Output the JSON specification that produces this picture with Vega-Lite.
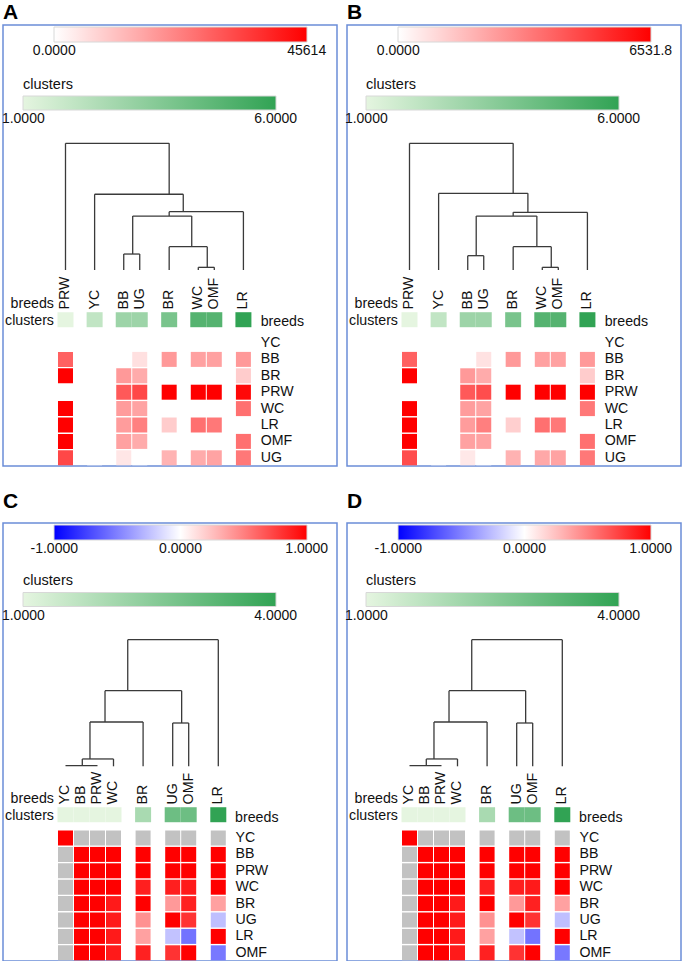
{
  "$schema": "https://vega.github.io/schema/vega-lite/v6.json",
  "padding": {"left": 2, "top": 1, "right": 0, "bottom": 0},
  "config": {
    "view": {"stroke": "#6b8dd8", "strokeWidth": 1.5},
    "font": "Liberation Sans",
    "text": {"font": "Liberation Sans", "fontSize": 14.2, "color": "#111"},
    "title": {"anchor": "start", "fontSize": 21, "fontWeight": "bold", "baseline": "alphabetic", "font": "Liberation Sans", "color": "#000"},
    "legend": {"gradientStrokeColor": "#d8d8d8", "gradientStrokeWidth": 1, "labelColor": "#111", "titleColor": "#111", "labelFont": "Liberation Sans", "titleFont": "Liberation Sans", "padding": 0}
  },
  "datasets": {
    "colsA": [{"c":"PRW","pos":0,"cl":1},{"c":"YC","pos":1.82,"cl":2},{"c":"BB","pos":3.64,"cl":3},{"c":"UG","pos":4.64,"cl":3},{"c":"BR","pos":6.48,"cl":4},{"c":"WC","pos":8.3,"cl":5},{"c":"OMF","pos":9.3,"cl":5},{"c":"LR","pos":11.12,"cl":6}],
    "rowsA": [{"r":"YC","ri":0},{"r":"BB","ri":1},{"r":"BR","ri":2},{"r":"PRW","ri":3},{"r":"WC","ri":4},{"r":"LR","ri":5},{"r":"OMF","ri":6},{"r":"UG","ri":7}],
    "colsC": [{"c":"YC","pos":0,"cl":1},{"c":"BB","pos":1,"cl":1},{"c":"PRW","pos":2,"cl":1},{"c":"WC","pos":3,"cl":1},{"c":"BR","pos":4.85,"cl":2},{"c":"UG","pos":6.7,"cl":3},{"c":"OMF","pos":7.7,"cl":3},{"c":"LR","pos":9.55,"cl":4}],
    "rowsC": [{"r":"YC","ri":0},{"r":"BB","ri":1},{"r":"PRW","ri":2},{"r":"WC","ri":3},{"r":"BR","ri":4},{"r":"UG","ri":5},{"r":"LR","ri":6},{"r":"OMF","ri":7}],
    "dendA": [
      {"x":0,"x2":0,"h":0,"h2":1},{"x":0,"x2":6.48,"h":1,"h2":1},{"x":6.48,"x2":6.48,"h":1,"h2":0.598},
      {"x":1.82,"x2":7.36,"h":0.598,"h2":0.598},{"x":1.82,"x2":1.82,"h":0,"h2":0.598},{"x":7.36,"x2":7.36,"h":0.598,"h2":0.46},
      {"x":6.48,"x2":11.12,"h":0.46,"h2":0.46},{"x":11.12,"x2":11.12,"h":0,"h2":0.46},{"x":6.48,"x2":6.48,"h":0.46,"h2":0.426},
      {"x":4.2,"x2":7.89,"h":0.426,"h2":0.426},{"x":4.2,"x2":4.2,"h":0.426,"h2":0.126},{"x":3.64,"x2":4.64,"h":0.126,"h2":0.126},
      {"x":3.64,"x2":3.64,"h":0,"h2":0.126},{"x":4.64,"x2":4.64,"h":0,"h2":0.126},{"x":7.89,"x2":7.89,"h":0.426,"h2":0.184},
      {"x":6.48,"x2":8.86,"h":0.184,"h2":0.184},{"x":6.48,"x2":6.48,"h":0,"h2":0.184},{"x":8.86,"x2":8.86,"h":0.184,"h2":0.021},
      {"x":8.3,"x2":9.3,"h":0.021,"h2":0.021},{"x":8.3,"x2":8.3,"h":0,"h2":0.021},{"x":9.3,"x2":9.3,"h":0,"h2":0.021}
    ],
    "dendB": [
      {"x":0,"x2":0,"h":0,"h2":1},{"x":0,"x2":6.48,"h":1,"h2":1},{"x":6.48,"x2":6.48,"h":1,"h2":0.605},
      {"x":1.82,"x2":7.4,"h":0.605,"h2":0.605},{"x":1.82,"x2":1.82,"h":0,"h2":0.605},{"x":7.4,"x2":7.4,"h":0.605,"h2":0.455},
      {"x":6.48,"x2":11.12,"h":0.455,"h2":0.455},{"x":11.12,"x2":11.12,"h":0,"h2":0.455},{"x":6.48,"x2":6.48,"h":0.455,"h2":0.426},
      {"x":4.17,"x2":7.96,"h":0.426,"h2":0.426},{"x":4.17,"x2":4.17,"h":0.426,"h2":0.113},{"x":3.64,"x2":4.64,"h":0.113,"h2":0.113},
      {"x":3.64,"x2":3.64,"h":0,"h2":0.113},{"x":4.64,"x2":4.64,"h":0,"h2":0.113},{"x":7.96,"x2":7.96,"h":0.426,"h2":0.184},
      {"x":6.48,"x2":8.86,"h":0.184,"h2":0.184},{"x":6.48,"x2":6.48,"h":0,"h2":0.184},{"x":8.86,"x2":8.86,"h":0.184,"h2":0.021},
      {"x":8.3,"x2":9.3,"h":0.021,"h2":0.021},{"x":8.3,"x2":8.3,"h":0,"h2":0.021},{"x":9.3,"x2":9.3,"h":0,"h2":0.021}
    ],
    "dendC": [
      {"x":9.55,"x2":9.55,"h":0,"h2":1},{"x":3.89,"x2":9.55,"h":1,"h2":1},{"x":3.89,"x2":3.89,"h":1,"h2":0.597},
      {"x":2.47,"x2":7.26,"h":0.597,"h2":0.597},{"x":7.26,"x2":7.26,"h":0.597,"h2":0.342},{"x":6.7,"x2":7.7,"h":0.342,"h2":0.342},
      {"x":6.7,"x2":6.7,"h":0,"h2":0.342},{"x":7.7,"x2":7.7,"h":0,"h2":0.342},{"x":2.47,"x2":2.47,"h":0.597,"h2":0.35},
      {"x":1.53,"x2":4.85,"h":0.35,"h2":0.35},{"x":4.85,"x2":4.85,"h":0,"h2":0.35},{"x":1.53,"x2":1.53,"h":0.35,"h2":0.058},
      {"x":1.05,"x2":3,"h":0.058,"h2":0.058},{"x":3,"x2":3,"h":0,"h2":0.058},{"x":1.05,"x2":1.05,"h":0.058,"h2":0.006},
      {"x":0,"x2":2,"h":0.006,"h2":0.006}
    ],
    "heatA": [
      {"r":"YC","c":"PRW","v":0},{"r":"YC","c":"YC","v":0},{"r":"YC","c":"BB","v":0},{"r":"YC","c":"UG","v":0},{"r":"YC","c":"BR","v":0},{"r":"YC","c":"WC","v":0},{"r":"YC","c":"OMF","v":0},{"r":"YC","c":"LR","v":0},
      {"r":"BB","c":"PRW","v":28281},{"r":"BB","c":"YC","v":0},{"r":"BB","c":"BB","v":0},{"r":"BB","c":"UG","v":5474},{"r":"BB","c":"BR","v":18246},{"r":"BB","c":"WC","v":16877},{"r":"BB","c":"OMF","v":16877},{"r":"BB","c":"LR","v":18246},
      {"r":"BR","c":"PRW","v":45614},{"r":"BR","c":"YC","v":0},{"r":"BR","c":"BB","v":18246},{"r":"BR","c":"UG","v":15053},{"r":"BR","c":"BR","v":0},{"r":"BR","c":"WC","v":0},{"r":"BR","c":"OMF","v":0},{"r":"BR","c":"LR","v":9123},
      {"r":"PRW","c":"PRW","v":0},{"r":"PRW","c":"YC","v":0},{"r":"PRW","c":"BB","v":29649},{"r":"PRW","c":"UG","v":32842},{"r":"PRW","c":"BR","v":45614},{"r":"PRW","c":"WC","v":45614},{"r":"PRW","c":"OMF","v":45614},{"r":"PRW","c":"LR","v":44246},
      {"r":"WC","c":"PRW","v":45614},{"r":"WC","c":"YC","v":0},{"r":"WC","c":"BB","v":17789},{"r":"WC","c":"UG","v":16421},{"r":"WC","c":"BR","v":0},{"r":"WC","c":"WC","v":0},{"r":"WC","c":"OMF","v":0},{"r":"WC","c":"LR","v":25544},
      {"r":"LR","c":"PRW","v":45614},{"r":"LR","c":"YC","v":0},{"r":"LR","c":"BB","v":17789},{"r":"LR","c":"UG","v":22807},{"r":"LR","c":"BR","v":9123},{"r":"LR","c":"WC","v":25544},{"r":"LR","c":"OMF","v":24175},{"r":"LR","c":"LR","v":0},
      {"r":"OMF","c":"PRW","v":45614},{"r":"OMF","c":"YC","v":0},{"r":"OMF","c":"BB","v":16877},{"r":"OMF","c":"UG","v":15053},{"r":"OMF","c":"BR","v":0},{"r":"OMF","c":"WC","v":0},{"r":"OMF","c":"OMF","v":0},{"r":"OMF","c":"LR","v":25544},
      {"r":"UG","c":"PRW","v":32842},{"r":"UG","c":"YC","v":0},{"r":"UG","c":"BB","v":4561},{"r":"UG","c":"UG","v":0},{"r":"UG","c":"BR","v":13684},{"r":"UG","c":"WC","v":15053},{"r":"UG","c":"OMF","v":16421},{"r":"UG","c":"LR","v":24175}
    ],
    "heatB": [
      {"r":"YC","c":"PRW","v":0},{"r":"YC","c":"YC","v":0},{"r":"YC","c":"BB","v":0},{"r":"YC","c":"UG","v":0},{"r":"YC","c":"BR","v":0},{"r":"YC","c":"WC","v":0},{"r":"YC","c":"OMF","v":0},{"r":"YC","c":"LR","v":0},
      {"r":"BB","c":"PRW","v":4050},{"r":"BB","c":"YC","v":0},{"r":"BB","c":"BB","v":0},{"r":"BB","c":"UG","v":740},{"r":"BB","c":"BR","v":2613},{"r":"BB","c":"WC","v":2417},{"r":"BB","c":"OMF","v":2417},{"r":"BB","c":"LR","v":2613},
      {"r":"BR","c":"PRW","v":6531.8},{"r":"BR","c":"YC","v":0},{"r":"BR","c":"BB","v":2613},{"r":"BR","c":"UG","v":2156},{"r":"BR","c":"BR","v":0},{"r":"BR","c":"WC","v":0},{"r":"BR","c":"OMF","v":0},{"r":"BR","c":"LR","v":1306},
      {"r":"PRW","c":"PRW","v":0},{"r":"PRW","c":"YC","v":0},{"r":"PRW","c":"BB","v":4246},{"r":"PRW","c":"UG","v":4570},{"r":"PRW","c":"BR","v":6531.8},{"r":"PRW","c":"WC","v":6531.8},{"r":"PRW","c":"OMF","v":6531.8},{"r":"PRW","c":"LR","v":6531.8},
      {"r":"WC","c":"PRW","v":6531.8},{"r":"WC","c":"YC","v":0},{"r":"WC","c":"BB","v":2547},{"r":"WC","c":"UG","v":2351},{"r":"WC","c":"BR","v":0},{"r":"WC","c":"WC","v":0},{"r":"WC","c":"OMF","v":0},{"r":"WC","c":"LR","v":3462},
      {"r":"LR","c":"PRW","v":6531.8},{"r":"LR","c":"YC","v":0},{"r":"LR","c":"BB","v":2547},{"r":"LR","c":"UG","v":3266},{"r":"LR","c":"BR","v":1230},{"r":"LR","c":"WC","v":3658},{"r":"LR","c":"OMF","v":3462},{"r":"LR","c":"LR","v":0},
      {"r":"OMF","c":"PRW","v":6531.8},{"r":"OMF","c":"YC","v":0},{"r":"OMF","c":"BB","v":2417},{"r":"OMF","c":"UG","v":2351},{"r":"OMF","c":"BR","v":0},{"r":"OMF","c":"WC","v":0},{"r":"OMF","c":"OMF","v":0},{"r":"OMF","c":"LR","v":3658},
      {"r":"UG","c":"PRW","v":4573},{"r":"UG","c":"YC","v":0},{"r":"UG","c":"BB","v":590},{"r":"UG","c":"UG","v":0},{"r":"UG","c":"BR","v":1960},{"r":"UG","c":"WC","v":2220},{"r":"UG","c":"OMF","v":2351},{"r":"UG","c":"LR","v":3462}
    ],
    "heatC": [
      {"r":"YC","c":"YC","v":1},{"r":"YC","c":"BB","v":null},{"r":"YC","c":"PRW","v":null},{"r":"YC","c":"WC","v":null},{"r":"YC","c":"BR","v":null},{"r":"YC","c":"UG","v":null},{"r":"YC","c":"OMF","v":null},{"r":"YC","c":"LR","v":null},
      {"r":"BB","c":"YC","v":null},{"r":"BB","c":"BB","v":1},{"r":"BB","c":"PRW","v":1},{"r":"BB","c":"WC","v":1},{"r":"BB","c":"BR","v":1},{"r":"BB","c":"UG","v":1},{"r":"BB","c":"OMF","v":1},{"r":"BB","c":"LR","v":1},
      {"r":"PRW","c":"YC","v":null},{"r":"PRW","c":"BB","v":1},{"r":"PRW","c":"PRW","v":1},{"r":"PRW","c":"WC","v":1},{"r":"PRW","c":"BR","v":1},{"r":"PRW","c":"UG","v":1},{"r":"PRW","c":"OMF","v":1},{"r":"PRW","c":"LR","v":1},
      {"r":"WC","c":"YC","v":null},{"r":"WC","c":"BB","v":1},{"r":"WC","c":"PRW","v":1},{"r":"WC","c":"WC","v":1},{"r":"WC","c":"BR","v":0.88},{"r":"WC","c":"UG","v":0.88},{"r":"WC","c":"OMF","v":0.9},{"r":"WC","c":"LR","v":1},
      {"r":"BR","c":"YC","v":null},{"r":"BR","c":"BB","v":1},{"r":"BR","c":"PRW","v":1},{"r":"BR","c":"WC","v":0.9},{"r":"BR","c":"BR","v":1},{"r":"BR","c":"UG","v":0.4},{"r":"BR","c":"OMF","v":0.87},{"r":"BR","c":"LR","v":0.37},
      {"r":"UG","c":"YC","v":null},{"r":"UG","c":"BB","v":1},{"r":"UG","c":"PRW","v":1},{"r":"UG","c":"WC","v":0.9},{"r":"UG","c":"BR","v":0.43},{"r":"UG","c":"UG","v":1},{"r":"UG","c":"OMF","v":0.8},{"r":"UG","c":"LR","v":-0.25},
      {"r":"LR","c":"YC","v":null},{"r":"LR","c":"BB","v":1},{"r":"LR","c":"PRW","v":1},{"r":"LR","c":"WC","v":0.9},{"r":"LR","c":"BR","v":0.37},{"r":"LR","c":"UG","v":-0.24},{"r":"LR","c":"OMF","v":-0.55},{"r":"LR","c":"LR","v":1},
      {"r":"OMF","c":"YC","v":null},{"r":"OMF","c":"BB","v":1},{"r":"OMF","c":"PRW","v":1},{"r":"OMF","c":"WC","v":0.9},{"r":"OMF","c":"BR","v":0.87},{"r":"OMF","c":"UG","v":0.8},{"r":"OMF","c":"OMF","v":1},{"r":"OMF","c":"LR","v":-0.53}
    ]
  },
  "spacing": 23,
  "vconcat": [
    {
      "spacing": 8,
      "hconcat": [
        {
          "width": 334, "height": 441,
          "title": {"text": "A", "offset": 2},
          "layer": [
            {"data": {"name": "dendA"}, "mark": {"type": "rule", "color": "#3a3a3a", "strokeWidth": 1.3},
             "encoding": {"x": {"field": "x", "type": "quantitative", "scale": {"domain": [-3.906, 16.969], "nice": false, "zero": false}, "axis": null}, "x2": {"field": "x2"},
                          "y": {"field": "h", "type": "quantitative", "scale": {"domain": [0, 1], "range": [245, 118.3], "nice": false, "zero": false}, "axis": null}, "y2": {"field": "h2"}}},
            {"data": {"name": "heatA"},
             "transform": [{"lookup": "c", "from": {"data": {"name": "colsA"}, "key": "c", "fields": ["pos"]}}, {"lookup": "r", "from": {"data": {"name": "rowsA"}, "key": "r", "fields": ["ri"]}}],
             "mark": {"type": "tick", "orient": "horizontal", "size": 15, "thickness": 15, "opacity": 1},
             "encoding": {"x": {"field": "pos", "type": "quantitative", "scale": {"domain": [-3.906, 16.969], "nice": false, "zero": false}, "axis": null},
                          "y": {"field": "ri", "type": "quantitative", "scale": {"domain": [-19.39, 7.5], "reverse": true, "nice": false, "zero": false}, "axis": null},
                          "color": {"field": "v", "type": "quantitative", "scale": {"domain": [0, 45614], "range": ["#ffffff", "#ff0000"], "interpolate": "rgb", "nice": false},
                                    "legend": {"orient": "none", "legendX": 51, "legendY": 2, "direction": "horizontal", "title": null, "gradientLength": 253, "gradientThickness": 15, "values": [50, 45564], "labelExpr": "datum.value < 1000 ? '0.0000' : '45614'", "labelOffset": 2, "labelFontSize": 14, "labelOverlap": false}}}},
            {"data": {"name": "colsA"},
             "mark": {"type": "tick", "orient": "horizontal", "size": 16, "thickness": 15, "opacity": 1},
             "encoding": {"x": {"field": "pos", "type": "quantitative", "scale": {"domain": [-3.906, 16.969], "nice": false, "zero": false}, "axis": null},
                          "y": {"datum": -1.42, "type": "quantitative", "scale": {"domain": [-19.39, 7.5], "reverse": true, "nice": false, "zero": false}, "axis": null},
                          "color": {"field": "cl", "type": "quantitative", "scale": {"domain": [1, 6], "range": ["#e5f5e0", "#31a354"], "interpolate": "rgb", "nice": false},
                                    "legend": {"orient": "none", "legendX": 20, "legendY": 52.5, "direction": "horizontal", "title": "clusters", "titleFontSize": 14.5, "titleFontWeight": "normal", "titlePadding": 4, "gradientLength": 253, "gradientThickness": 14, "values": [1.006, 5.994], "labelExpr": "datum.value < 2 ? '1.0000' : '6.0000'", "labelOffset": 2, "labelFontSize": 14, "labelOverlap": false}}}},
            {"data": {"name": "colsA"},
             "mark": {"type": "text", "angle": 270, "align": "left", "baseline": "middle"},
             "encoding": {"x": {"field": "pos", "type": "quantitative", "scale": {"domain": [-3.906, 16.969], "nice": false, "zero": false}, "axis": null},
                          "y": {"datum": -2.05, "type": "quantitative", "scale": {"domain": [-19.39, 7.5], "reverse": true, "nice": false, "zero": false}, "axis": null},
                          "text": {"field": "c"}}},
            {"data": {"name": "rowsA"},
             "mark": {"type": "text", "align": "left", "baseline": "middle"},
             "encoding": {"x": {"datum": 12.2, "type": "quantitative", "scale": {"domain": [-3.906, 16.969], "nice": false, "zero": false}, "axis": null},
                          "y": {"field": "ri", "type": "quantitative", "scale": {"domain": [-19.39, 7.5], "reverse": true, "nice": false, "zero": false}, "axis": null},
                          "text": {"field": "r"}}},
            {"data": {"values": [{"t": "breeds"}]},
             "mark": {"type": "text", "align": "right", "baseline": "middle"},
             "encoding": {"x": {"datum": -0.72, "type": "quantitative", "scale": {"domain": [-3.906, 16.969], "nice": false, "zero": false}, "axis": null},
                          "y": {"datum": -2.36, "type": "quantitative", "scale": {"domain": [-19.39, 7.5], "reverse": true, "nice": false, "zero": false}, "axis": null},
                          "text": {"field": "t"}}},
            {"data": {"values": [{"t": "clusters"}]},
             "mark": {"type": "text", "align": "right", "baseline": "middle"},
             "encoding": {"x": {"datum": -0.72, "type": "quantitative", "scale": {"domain": [-3.906, 16.969], "nice": false, "zero": false}, "axis": null},
                          "y": {"datum": -1.37, "type": "quantitative", "scale": {"domain": [-19.39, 7.5], "reverse": true, "nice": false, "zero": false}, "axis": null},
                          "text": {"field": "t"}}},
            {"data": {"values": [{"t": "breeds"}]},
             "mark": {"type": "text", "align": "left", "baseline": "middle"},
             "encoding": {"x": {"datum": 12.2, "type": "quantitative", "scale": {"domain": [-3.906, 16.969], "nice": false, "zero": false}, "axis": null},
                          "y": {"datum": -1.25, "type": "quantitative", "scale": {"domain": [-19.39, 7.5], "reverse": true, "nice": false, "zero": false}, "axis": null},
                          "text": {"field": "t"}}}
          ],
          "resolve": {"scale": {"y": "independent", "color": "independent"}}
        },
        {
          "width": 334, "height": 441,
          "title": {"text": "B", "offset": 2},
          "layer": [
            {"data": {"name": "dendB"}, "mark": {"type": "rule", "color": "#3a3a3a", "strokeWidth": 1.3},
             "encoding": {"x": {"field": "x", "type": "quantitative", "scale": {"domain": [-3.906, 16.969], "nice": false, "zero": false}, "axis": null}, "x2": {"field": "x2"},
                          "y": {"field": "h", "type": "quantitative", "scale": {"domain": [0, 1], "range": [245, 118.3], "nice": false, "zero": false}, "axis": null}, "y2": {"field": "h2"}}},
            {"data": {"name": "heatB"},
             "transform": [{"lookup": "c", "from": {"data": {"name": "colsA"}, "key": "c", "fields": ["pos"]}}, {"lookup": "r", "from": {"data": {"name": "rowsA"}, "key": "r", "fields": ["ri"]}}],
             "mark": {"type": "tick", "orient": "horizontal", "size": 15, "thickness": 15, "opacity": 1},
             "encoding": {"x": {"field": "pos", "type": "quantitative", "scale": {"domain": [-3.906, 16.969], "nice": false, "zero": false}, "axis": null},
                          "y": {"field": "ri", "type": "quantitative", "scale": {"domain": [-19.39, 7.5], "reverse": true, "nice": false, "zero": false}, "axis": null},
                          "color": {"field": "v", "type": "quantitative", "scale": {"domain": [0, 6531.8], "range": ["#ffffff", "#ff0000"], "interpolate": "rgb", "nice": false},
                                    "legend": {"orient": "none", "legendX": 51, "legendY": 2, "direction": "horizontal", "title": null, "gradientLength": 253, "gradientThickness": 15, "values": [7, 6524.8], "labelExpr": "datum.value < 100 ? '0.0000' : '6531.8'", "labelOffset": 2, "labelFontSize": 14, "labelOverlap": false}}}},
            {"data": {"name": "colsA"},
             "mark": {"type": "tick", "orient": "horizontal", "size": 16, "thickness": 15, "opacity": 1},
             "encoding": {"x": {"field": "pos", "type": "quantitative", "scale": {"domain": [-3.906, 16.969], "nice": false, "zero": false}, "axis": null},
                          "y": {"datum": -1.42, "type": "quantitative", "scale": {"domain": [-19.39, 7.5], "reverse": true, "nice": false, "zero": false}, "axis": null},
                          "color": {"field": "cl", "type": "quantitative", "scale": {"domain": [1, 6], "range": ["#e5f5e0", "#31a354"], "interpolate": "rgb", "nice": false},
                                    "legend": {"orient": "none", "legendX": 19, "legendY": 52.5, "direction": "horizontal", "title": "clusters", "titleFontSize": 14.5, "titleFontWeight": "normal", "titlePadding": 4, "gradientLength": 253, "gradientThickness": 14, "values": [1.006, 5.994], "labelExpr": "datum.value < 2 ? '1.0000' : '6.0000'", "labelOffset": 2, "labelFontSize": 14, "labelOverlap": false}}}},
            {"data": {"name": "colsA"},
             "mark": {"type": "text", "angle": 270, "align": "left", "baseline": "middle"},
             "encoding": {"x": {"field": "pos", "type": "quantitative", "scale": {"domain": [-3.906, 16.969], "nice": false, "zero": false}, "axis": null},
                          "y": {"datum": -2.05, "type": "quantitative", "scale": {"domain": [-19.39, 7.5], "reverse": true, "nice": false, "zero": false}, "axis": null},
                          "text": {"field": "c"}}},
            {"data": {"name": "rowsA"},
             "mark": {"type": "text", "align": "left", "baseline": "middle"},
             "encoding": {"x": {"datum": 12.2, "type": "quantitative", "scale": {"domain": [-3.906, 16.969], "nice": false, "zero": false}, "axis": null},
                          "y": {"field": "ri", "type": "quantitative", "scale": {"domain": [-19.39, 7.5], "reverse": true, "nice": false, "zero": false}, "axis": null},
                          "text": {"field": "r"}}},
            {"data": {"values": [{"t": "breeds"}]},
             "mark": {"type": "text", "align": "right", "baseline": "middle"},
             "encoding": {"x": {"datum": -0.72, "type": "quantitative", "scale": {"domain": [-3.906, 16.969], "nice": false, "zero": false}, "axis": null},
                          "y": {"datum": -2.36, "type": "quantitative", "scale": {"domain": [-19.39, 7.5], "reverse": true, "nice": false, "zero": false}, "axis": null},
                          "text": {"field": "t"}}},
            {"data": {"values": [{"t": "clusters"}]},
             "mark": {"type": "text", "align": "right", "baseline": "middle"},
             "encoding": {"x": {"datum": -0.72, "type": "quantitative", "scale": {"domain": [-3.906, 16.969], "nice": false, "zero": false}, "axis": null},
                          "y": {"datum": -1.37, "type": "quantitative", "scale": {"domain": [-19.39, 7.5], "reverse": true, "nice": false, "zero": false}, "axis": null},
                          "text": {"field": "t"}}},
            {"data": {"values": [{"t": "breeds"}]},
             "mark": {"type": "text", "align": "left", "baseline": "middle"},
             "encoding": {"x": {"datum": 12.2, "type": "quantitative", "scale": {"domain": [-3.906, 16.969], "nice": false, "zero": false}, "axis": null},
                          "y": {"datum": -1.25, "type": "quantitative", "scale": {"domain": [-19.39, 7.5], "reverse": true, "nice": false, "zero": false}, "axis": null},
                          "text": {"field": "t"}}}
          ],
          "resolve": {"scale": {"y": "independent", "color": "independent"}}
        }
      ]
    },
    {
      "spacing": 8,
      "hconcat": [
        {
          "width": 334, "height": 438,
          "title": {"text": "C", "offset": 11},
          "layer": [
            {"data": {"name": "dendC"}, "mark": {"type": "rule", "color": "#3a3a3a", "strokeWidth": 1.3},
             "encoding": {"x": {"field": "x", "type": "quantitative", "scale": {"domain": [-3.906, 16.969], "nice": false, "zero": false}, "axis": null}, "x2": {"field": "x2"},
                          "y": {"field": "h", "type": "quantitative", "scale": {"domain": [0, 1], "range": [243.3, 116.7], "nice": false, "zero": false}, "axis": null}, "y2": {"field": "h2"}}},
            {"data": {"name": "heatC"},
             "transform": [{"lookup": "c", "from": {"data": {"name": "colsC"}, "key": "c", "fields": ["pos"]}}, {"lookup": "r", "from": {"data": {"name": "rowsC"}, "key": "r", "fields": ["ri"]}}, {"filter": "datum.v != null"}],
             "mark": {"type": "tick", "orient": "horizontal", "size": 15, "thickness": 15, "opacity": 1},
             "encoding": {"x": {"field": "pos", "type": "quantitative", "scale": {"domain": [-3.906, 16.969], "nice": false, "zero": false}, "axis": null},
                          "y": {"field": "ri", "type": "quantitative", "scale": {"domain": [-19.21, 7.5], "reverse": true, "nice": false, "zero": false}, "axis": null},
                          "color": {"field": "v", "type": "quantitative", "scale": {"domain": [-1, 0, 1], "range": ["#0000ff", "#ffffff", "#ff0000"], "interpolate": "rgb", "nice": false},
                                    "legend": {"orient": "none", "legendX": 51, "legendY": 2, "direction": "horizontal", "title": null, "gradientLength": 253, "gradientThickness": 15, "values": [-0.998, 0, 0.998], "labelExpr": "datum.value < -0.5 ? '-1.0000' : datum.value > 0.5 ? '1.0000' : '0.0000'", "labelOffset": 2, "labelFontSize": 14, "labelOverlap": false}}}},
            {"data": {"name": "heatC"},
             "transform": [{"lookup": "c", "from": {"data": {"name": "colsC"}, "key": "c", "fields": ["pos"]}}, {"lookup": "r", "from": {"data": {"name": "rowsC"}, "key": "r", "fields": ["ri"]}}, {"filter": "datum.v == null"}],
             "mark": {"type": "tick", "orient": "horizontal", "size": 15, "thickness": 15, "opacity": 1, "color": "#c2c2c2"},
             "encoding": {"x": {"field": "pos", "type": "quantitative", "scale": {"domain": [-3.906, 16.969], "nice": false, "zero": false}, "axis": null},
                          "y": {"field": "ri", "type": "quantitative", "scale": {"domain": [-19.21, 7.5], "reverse": true, "nice": false, "zero": false}, "axis": null}}},
            {"data": {"name": "colsC"},
             "mark": {"type": "tick", "orient": "horizontal", "size": 16, "thickness": 15, "opacity": 1},
             "encoding": {"x": {"field": "pos", "type": "quantitative", "scale": {"domain": [-3.906, 16.969], "nice": false, "zero": false}, "axis": null},
                          "y": {"datum": -1.42, "type": "quantitative", "scale": {"domain": [-19.21, 7.5], "reverse": true, "nice": false, "zero": false}, "axis": null},
                          "color": {"field": "cl", "type": "quantitative", "scale": {"domain": [1, 4], "range": ["#e5f5e0", "#31a354"], "interpolate": "rgb", "nice": false},
                                    "legend": {"orient": "none", "legendX": 20, "legendY": 51, "direction": "horizontal", "title": "clusters", "titleFontSize": 14.5, "titleFontWeight": "normal", "titlePadding": 4, "gradientLength": 253, "gradientThickness": 14, "values": [1.004, 3.996], "labelExpr": "datum.value < 2 ? '1.0000' : '4.0000'", "labelOffset": 2, "labelFontSize": 14, "labelOverlap": false}}}},
            {"data": {"name": "colsC"},
             "mark": {"type": "text", "angle": 270, "align": "left", "baseline": "middle"},
             "encoding": {"x": {"field": "pos", "type": "quantitative", "scale": {"domain": [-3.906, 16.969], "nice": false, "zero": false}, "axis": null},
                          "y": {"datum": -2.05, "type": "quantitative", "scale": {"domain": [-19.21, 7.5], "reverse": true, "nice": false, "zero": false}, "axis": null},
                          "text": {"field": "c"}}},
            {"data": {"name": "rowsC"},
             "mark": {"type": "text", "align": "left", "baseline": "middle"},
             "encoding": {"x": {"datum": 10.62, "type": "quantitative", "scale": {"domain": [-3.906, 16.969], "nice": false, "zero": false}, "axis": null},
                          "y": {"field": "ri", "type": "quantitative", "scale": {"domain": [-19.21, 7.5], "reverse": true, "nice": false, "zero": false}, "axis": null},
                          "text": {"field": "r"}}},
            {"data": {"values": [{"t": "breeds"}]},
             "mark": {"type": "text", "align": "right", "baseline": "middle"},
             "encoding": {"x": {"datum": -0.72, "type": "quantitative", "scale": {"domain": [-3.906, 16.969], "nice": false, "zero": false}, "axis": null},
                          "y": {"datum": -2.36, "type": "quantitative", "scale": {"domain": [-19.21, 7.5], "reverse": true, "nice": false, "zero": false}, "axis": null},
                          "text": {"field": "t"}}},
            {"data": {"values": [{"t": "clusters"}]},
             "mark": {"type": "text", "align": "right", "baseline": "middle"},
             "encoding": {"x": {"datum": -0.72, "type": "quantitative", "scale": {"domain": [-3.906, 16.969], "nice": false, "zero": false}, "axis": null},
                          "y": {"datum": -1.37, "type": "quantitative", "scale": {"domain": [-19.21, 7.5], "reverse": true, "nice": false, "zero": false}, "axis": null},
                          "text": {"field": "t"}}},
            {"data": {"values": [{"t": "breeds"}]},
             "mark": {"type": "text", "align": "left", "baseline": "middle"},
             "encoding": {"x": {"datum": 10.6, "type": "quantitative", "scale": {"domain": [-3.906, 16.969], "nice": false, "zero": false}, "axis": null},
                          "y": {"datum": -1.25, "type": "quantitative", "scale": {"domain": [-19.21, 7.5], "reverse": true, "nice": false, "zero": false}, "axis": null},
                          "text": {"field": "t"}}}
          ],
          "resolve": {"scale": {"y": "independent", "color": "independent"}}
        },
        {
          "width": 334, "height": 438,
          "title": {"text": "D", "offset": 11},
          "layer": [
            {"data": {"name": "dendC"}, "mark": {"type": "rule", "color": "#3a3a3a", "strokeWidth": 1.3},
             "encoding": {"x": {"field": "x", "type": "quantitative", "scale": {"domain": [-3.906, 16.969], "nice": false, "zero": false}, "axis": null}, "x2": {"field": "x2"},
                          "y": {"field": "h", "type": "quantitative", "scale": {"domain": [0, 1], "range": [243.3, 116.7], "nice": false, "zero": false}, "axis": null}, "y2": {"field": "h2"}}},
            {"data": {"name": "heatC"},
             "transform": [{"lookup": "c", "from": {"data": {"name": "colsC"}, "key": "c", "fields": ["pos"]}}, {"lookup": "r", "from": {"data": {"name": "rowsC"}, "key": "r", "fields": ["ri"]}}, {"filter": "datum.v != null"}],
             "mark": {"type": "tick", "orient": "horizontal", "size": 15, "thickness": 15, "opacity": 1},
             "encoding": {"x": {"field": "pos", "type": "quantitative", "scale": {"domain": [-3.906, 16.969], "nice": false, "zero": false}, "axis": null},
                          "y": {"field": "ri", "type": "quantitative", "scale": {"domain": [-19.21, 7.5], "reverse": true, "nice": false, "zero": false}, "axis": null},
                          "color": {"field": "v", "type": "quantitative", "scale": {"domain": [-1, 0, 1], "range": ["#0000ff", "#ffffff", "#ff0000"], "interpolate": "rgb", "nice": false},
                                    "legend": {"orient": "none", "legendX": 51, "legendY": 2, "direction": "horizontal", "title": null, "gradientLength": 253, "gradientThickness": 15, "values": [-0.998, 0, 0.998], "labelExpr": "datum.value < -0.5 ? '-1.0000' : datum.value > 0.5 ? '1.0000' : '0.0000'", "labelOffset": 2, "labelFontSize": 14, "labelOverlap": false}}}},
            {"data": {"name": "heatC"},
             "transform": [{"lookup": "c", "from": {"data": {"name": "colsC"}, "key": "c", "fields": ["pos"]}}, {"lookup": "r", "from": {"data": {"name": "rowsC"}, "key": "r", "fields": ["ri"]}}, {"filter": "datum.v == null"}],
             "mark": {"type": "tick", "orient": "horizontal", "size": 15, "thickness": 15, "opacity": 1, "color": "#c2c2c2"},
             "encoding": {"x": {"field": "pos", "type": "quantitative", "scale": {"domain": [-3.906, 16.969], "nice": false, "zero": false}, "axis": null},
                          "y": {"field": "ri", "type": "quantitative", "scale": {"domain": [-19.21, 7.5], "reverse": true, "nice": false, "zero": false}, "axis": null}}},
            {"data": {"name": "colsC"},
             "mark": {"type": "tick", "orient": "horizontal", "size": 16, "thickness": 15, "opacity": 1},
             "encoding": {"x": {"field": "pos", "type": "quantitative", "scale": {"domain": [-3.906, 16.969], "nice": false, "zero": false}, "axis": null},
                          "y": {"datum": -1.42, "type": "quantitative", "scale": {"domain": [-19.21, 7.5], "reverse": true, "nice": false, "zero": false}, "axis": null},
                          "color": {"field": "cl", "type": "quantitative", "scale": {"domain": [1, 4], "range": ["#e5f5e0", "#31a354"], "interpolate": "rgb", "nice": false},
                                    "legend": {"orient": "none", "legendX": 19, "legendY": 51, "direction": "horizontal", "title": "clusters", "titleFontSize": 14.5, "titleFontWeight": "normal", "titlePadding": 4, "gradientLength": 253, "gradientThickness": 14, "values": [1.004, 3.996], "labelExpr": "datum.value < 2 ? '1.0000' : '4.0000'", "labelOffset": 2, "labelFontSize": 14, "labelOverlap": false}}}},
            {"data": {"name": "colsC"},
             "mark": {"type": "text", "angle": 270, "align": "left", "baseline": "middle"},
             "encoding": {"x": {"field": "pos", "type": "quantitative", "scale": {"domain": [-3.906, 16.969], "nice": false, "zero": false}, "axis": null},
                          "y": {"datum": -2.05, "type": "quantitative", "scale": {"domain": [-19.21, 7.5], "reverse": true, "nice": false, "zero": false}, "axis": null},
                          "text": {"field": "c"}}},
            {"data": {"name": "rowsC"},
             "mark": {"type": "text", "align": "left", "baseline": "middle"},
             "encoding": {"x": {"datum": 10.62, "type": "quantitative", "scale": {"domain": [-3.906, 16.969], "nice": false, "zero": false}, "axis": null},
                          "y": {"field": "ri", "type": "quantitative", "scale": {"domain": [-19.21, 7.5], "reverse": true, "nice": false, "zero": false}, "axis": null},
                          "text": {"field": "r"}}},
            {"data": {"values": [{"t": "breeds"}]},
             "mark": {"type": "text", "align": "right", "baseline": "middle"},
             "encoding": {"x": {"datum": -0.72, "type": "quantitative", "scale": {"domain": [-3.906, 16.969], "nice": false, "zero": false}, "axis": null},
                          "y": {"datum": -2.36, "type": "quantitative", "scale": {"domain": [-19.21, 7.5], "reverse": true, "nice": false, "zero": false}, "axis": null},
                          "text": {"field": "t"}}},
            {"data": {"values": [{"t": "clusters"}]},
             "mark": {"type": "text", "align": "right", "baseline": "middle"},
             "encoding": {"x": {"datum": -0.72, "type": "quantitative", "scale": {"domain": [-3.906, 16.969], "nice": false, "zero": false}, "axis": null},
                          "y": {"datum": -1.37, "type": "quantitative", "scale": {"domain": [-19.21, 7.5], "reverse": true, "nice": false, "zero": false}, "axis": null},
                          "text": {"field": "t"}}},
            {"data": {"values": [{"t": "breeds"}]},
             "mark": {"type": "text", "align": "left", "baseline": "middle"},
             "encoding": {"x": {"datum": 10.6, "type": "quantitative", "scale": {"domain": [-3.906, 16.969], "nice": false, "zero": false}, "axis": null},
                          "y": {"datum": -1.25, "type": "quantitative", "scale": {"domain": [-19.21, 7.5], "reverse": true, "nice": false, "zero": false}, "axis": null},
                          "text": {"field": "t"}}}
          ],
          "resolve": {"scale": {"y": "independent", "color": "independent"}}
        }
      ]
    }
  ]
}
